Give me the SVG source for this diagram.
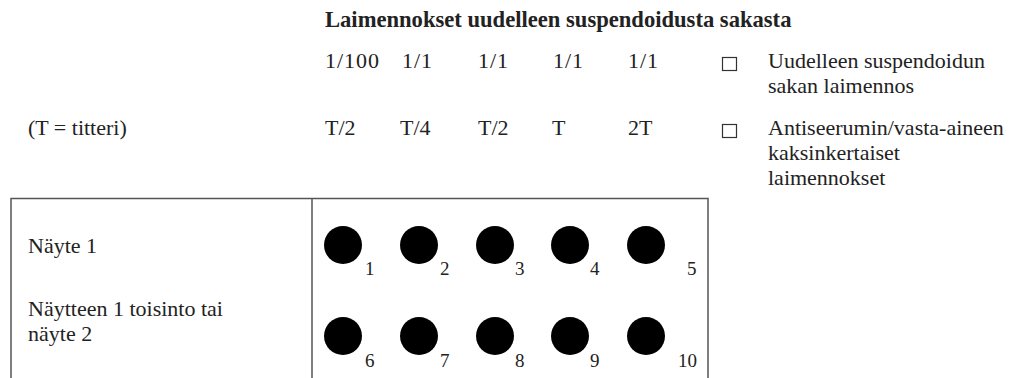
<svg xmlns="http://www.w3.org/2000/svg" width="1009" height="378" viewBox="0 0 1009 378">
  <style>
    text { font-family: "Liberation Serif", "DejaVu Serif", serif; font-size: 22px; fill: #222; }
    .title { font-weight: bold; font-size: 22.6px; }
    .wide { letter-spacing: 1px; }
    .num { font-size: 19px; }
    .frame { fill: none; stroke: #555; stroke-width: 1.5; }
    .well { fill: #000; }
    .chk { fill: none; stroke: #333; stroke-width: 1.2; }
  </style>

  <!-- header: dilution scheme -->
  <g id="header">
    <text class="title" x="325" y="27">Laimennokset uudelleen suspendoidusta sakasta</text>
    <text class="wide" x="325" y="68">1/100</text>
    <text class="wide" x="402" y="68">1/1</text>
    <text class="wide" x="478" y="68">1/1</text>
    <text class="wide" x="553" y="68">1/1</text>
    <text class="wide" x="628" y="68">1/1</text>
    <text x="28" y="135">(T = titteri)</text>
    <text x="325" y="135">T/2</text>
    <text x="400" y="135">T/4</text>
    <text x="478" y="135">T/2</text>
    <text x="552" y="135">T</text>
    <text x="628" y="135">2T</text>
  </g>

  <!-- legend -->
  <g id="legend-sediment">
    <rect class="chk" x="722.5" y="57.5" width="14" height="13"/>
    <text x="768" y="68">Uudelleen suspendoidun</text>
    <text x="768" y="93">sakan laimennos</text>
  </g>
  <g id="legend-antiserum">
    <rect class="chk" x="722.5" y="124.5" width="14" height="13"/>
    <text x="768" y="135">Antiseerumin/vasta-aineen</text>
    <text x="768" y="160">kaksinkertaiset</text>
    <text x="768" y="185">laimennokset</text>
  </g>

  <!-- plate frame -->
  <g id="plate">
    <polyline class="frame" points="11,378 11,198.5 708,198.5 708,378"/>
    <line class="frame" x1="312" y1="198.5" x2="312" y2="378"/>
  </g>

  <g id="row-labels">
    <text x="28" y="253">Näyte 1</text>
    <text x="28" y="316">Näytteen 1 toisinto tai</text>
    <text x="28" y="341">näyte 2</text>
  </g>

  <!-- wells, row 1 -->
  <g id="well-1"><circle class="well" cx="343" cy="245" r="19"/><text class="num" x="365" y="275">1</text></g>
  <g id="well-2"><circle class="well" cx="419" cy="245" r="19"/><text class="num" x="440" y="275">2</text></g>
  <g id="well-3"><circle class="well" cx="495" cy="245" r="19"/><text class="num" x="515" y="275">3</text></g>
  <g id="well-4"><circle class="well" cx="570" cy="245" r="19"/><text class="num" x="590" y="275">4</text></g>
  <g id="well-5"><circle class="well" cx="646" cy="245" r="19"/><text class="num" x="687" y="275">5</text></g>

  <!-- wells, row 2 -->
  <g id="well-6"><circle class="well" cx="343" cy="336" r="19"/><text class="num" x="365" y="367">6</text></g>
  <g id="well-7"><circle class="well" cx="419" cy="336" r="19"/><text class="num" x="440" y="367">7</text></g>
  <g id="well-8"><circle class="well" cx="495" cy="336" r="19"/><text class="num" x="515" y="367">8</text></g>
  <g id="well-9"><circle class="well" cx="570" cy="336" r="19"/><text class="num" x="590" y="367">9</text></g>
  <g id="well-10"><circle class="well" cx="646" cy="336" r="19"/><text class="num" x="678" y="367">10</text></g>

  <g id="connectors"></g>
</svg>
